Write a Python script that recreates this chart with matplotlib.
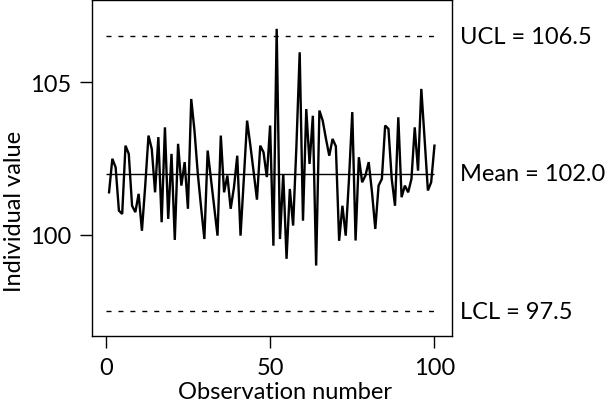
import matplotlib
matplotlib.use("Agg")
import matplotlib.pyplot as plt
import numpy as np

# individual values, observation 1..100
obs = np.arange(1, 101)
values = [
    101.39, 102.49, 102.21, 100.79, 100.68, 102.92, 102.65, 100.95, 100.74, 101.34,
    100.13, 101.60, 103.25, 102.81, 101.39, 103.20, 100.41, 103.52, 100.52, 102.65,
    99.83, 102.98, 101.61, 102.38, 100.85, 104.45, 103.40, 102.00, 100.90, 99.86,
    102.76, 101.83, 100.90, 99.97, 103.25, 101.39, 101.94, 100.85, 101.55, 102.59,
    99.97, 101.83, 103.74, 102.92, 102.05, 101.15, 102.92, 102.70, 101.89, 103.58,
    99.64, 106.75, 99.86, 101.99, 99.21, 101.50, 100.30, 102.90, 105.98, 100.46,
    104.12, 102.32, 103.90, 98.99, 104.07, 103.74, 103.14, 102.59, 103.14, 102.90,
    99.80, 100.95, 99.97, 101.83, 104.02, 99.81, 102.54, 101.72, 101.94, 102.38,
    101.39, 100.19, 101.61, 101.83, 103.58, 103.47, 101.83, 100.95, 103.85, 101.23,
    101.61, 101.39, 101.83, 103.52, 102.10, 104.78, 103.14, 101.45, 101.72, 102.92,
]

mean = 102.0
ucl = 106.5
lcl = 97.5
limit_labels = ["UCL = 106.5", "Mean = 102.0", "LCL = 97.5"]

plt.rcParams["font.family"] = ["Lato", "DejaVu Sans"]

fig = plt.figure(figsize=(6.09, 4.10), dpi=100)
ax = fig.add_axes([0.151, 0.178, 0.591, 0.820])

ax.plot(obs, values, color="black", lw=1.7, solid_joinstyle="miter")
ax.hlines(mean, 0, 100, color="black", lw=1.0)
ax.hlines([ucl, lcl], 0, 100, color="black", lw=1.0, linestyles=[(0, (3.6, 5.0))])

for val, lab in zip([ucl, mean, lcl], limit_labels):
    ax.annotate(lab, xy=(1, val), xycoords=("axes fraction", "data"),
                xytext=(6, 0), textcoords="offset points",
                va="center", ha="left", fontsize=17, annotation_clip=False)

ax.set_xlim(-4.2, 105.3)
ax.set_ylim(96.68, 107.7)
ax.set_xticks([0, 50, 100])
ax.set_yticks([100, 105])
ax.tick_params(direction="out", length=8.5, width=1.0, pad=6.5, labelsize=17)

ax.set_xlabel("Observation number", fontsize=17, va="center")
ax.set_ylabel("Individual value", fontsize=17, va="center")
ax.xaxis.set_label_coords(0.537, -0.164)
ax.yaxis.set_label_coords(-0.215, 0.375)
for s in ax.spines.values():
    s.set_linewidth(1.0)

fig.savefig("out.png", dpi=100)
